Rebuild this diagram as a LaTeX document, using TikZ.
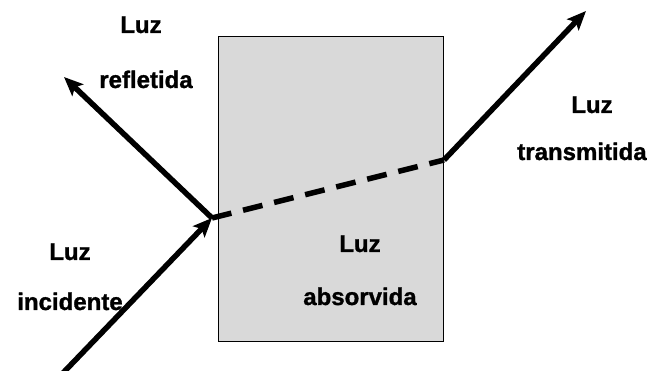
\documentclass[tikz,border=0pt]{standalone}
\usepackage{fontspec}
\setmainfont{Liberation Sans}
\newfontfamily\lblfont{Liberation Sans Bold}[FakeBold=1.2]
\usetikzlibrary{arrows.meta}
\begin{document}
\begin{tikzpicture}[x=1pt,y=-1pt,
  ray/.style={line width=5.5pt,-{Stealth[length=19pt,width=16pt,inset=4pt]}},
  dashray/.style={line width=5.5pt,dash pattern=on 20pt off 12pt},
  lbl/.style={anchor=base,inner sep=0pt,font=\lblfont\fontsize{24}{27}\selectfont}]
\useasboundingbox (0,0) rectangle (665,371);
\node[draw=black,line width=1.2pt,fill=black!15,minimum width=225pt,minimum height=305pt,inner sep=0pt,anchor=north west] (box) at (218,36) {};
\coordinate (inc) at (62,374);
\coordinate (hit) at (212,218);
\coordinate (refl) at (64,77);
\coordinate (exitpt) at (444,160);
\coordinate (trans) at (586,11);
\draw[ray] (inc) -- (hit);
\draw[ray] (hit) -- (refl);
\draw[dashray] (hit) -- (exitpt);
\draw[ray] (exitpt) -- (trans);
\node[lbl] (l1) at (141,33) {Luz};
\node[lbl] (l2) at (146,88) {refletida};
\node[lbl] (l3) at (70,260) {Luz};
\node[lbl] (l4) at (70,310) {incidente};
\node[lbl] (l5) at (360,252) {Luz};
\node[lbl] (l6) at (360,305) {absorvida};
\node[lbl] (l7) at (592,113) {Luz};
\node[lbl] (l8) at (582,160) {transmitida};
\end{tikzpicture}
\end{document}
